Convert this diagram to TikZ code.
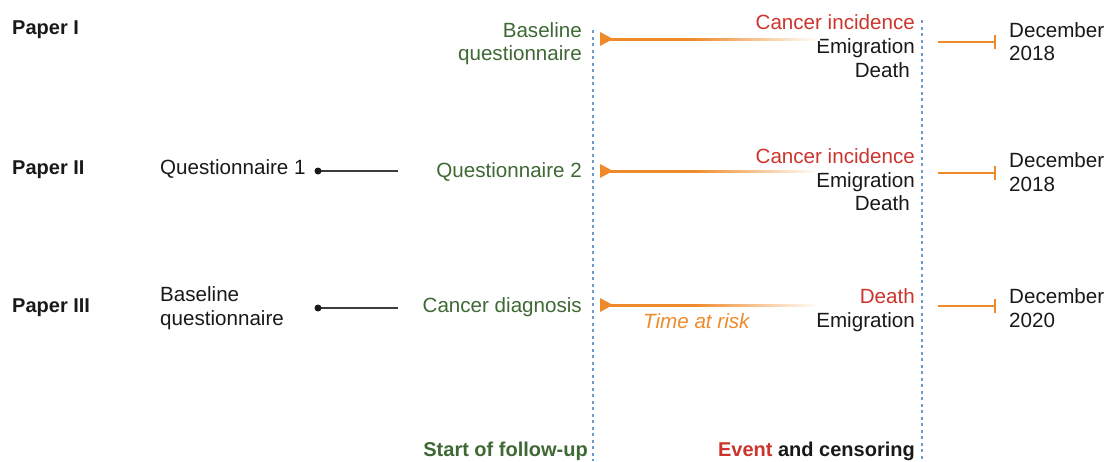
\documentclass[tikz,border=0pt]{standalone}
\usepackage{fontspec}
\setmainfont{Liberation Sans}
\definecolor{tgreen}{RGB}{62,104,52}
\definecolor{tred}{RGB}{204,52,46}
\definecolor{torange}{RGB}{238,138,42}
\definecolor{tblue}{RGB}{110,155,200}
\definecolor{tblack}{RGB}{25,25,25}
\pgfdeclarehorizontalshading{ofade}{100bp}{color(0bp)=(torange); color(25bp)=(torange); color(45bp)=(torange); color(75bp)=(white); color(100bp)=(white)}
\begin{document}
\begin{tikzpicture}[x=1pt,y=-1pt,
  txt/.style={inner sep=0pt,font=\fontsize{20.6}{24}\selectfont,text=tblack},
  gtxt/.style={txt,text=tgreen},
  rtxt/.style={txt,text=tred},
  ptitle/.style={txt,font=\fontsize{20}{24}\selectfont\bfseries,anchor=base west},
  vdot/.style={draw=tblue,line width=2pt,dash pattern=on 3pt off 3.5pt},
  conn/.style={draw=tblack!85,line width=2pt},
  oline/.style={draw=torange,line width=2.3pt},
  tri/.style={fill=torange},
]
\useasboundingbox (0,0) rectangle (1106,461);

% titles
\node[ptitle] (p1) at (12,34) {Paper I};
\node[ptitle] (p2) at (12,174) {Paper II};
\node[ptitle] (p3) at (12,312) {Paper III};

% dotted lines
\coordinate (v1t) at (593,30); \coordinate (v1b) at (593,461);
\coordinate (v2t) at (922,20); \coordinate (v2b) at (922,461);
\draw[vdot] (v1t) -- (v1b);
\draw[vdot] (v2t) -- (v2b);

% row 1
\node[gtxt,anchor=base east] (g1a) at (582,37) {Baseline};
\node[gtxt,anchor=base east] (g1b) at (582,60) {questionnaire};
\node[rtxt,anchor=base east] (e1a) at (915,29) {Cancer incidence};
\node[txt,anchor=base east] (e1b) at (915,53) {Emigration};
\node[txt,anchor=base east] (e1c) at (910,77) {Death};
\node[txt,anchor=base west] (d1a) at (1009,37) {December};
\node[txt,anchor=base west] (d1b) at (1009,60) {2018};

% row 2
\node[txt,anchor=base west] (q1) at (160,174) {Questionnaire 1};
\node[gtxt,anchor=base east] (q2) at (582,177) {Questionnaire 2};
\node[rtxt,anchor=base east] (e2a) at (915,163) {Cancer incidence};
\node[txt,anchor=base east] (e2b) at (915,187) {Emigration};
\node[txt,anchor=base east] (e2c) at (910,210) {Death};
\node[txt,anchor=base west] (d2a) at (1009,167) {December};
\node[txt,anchor=base west] (d2b) at (1009,191) {2018};

% row 3
\node[txt,anchor=base west] (b3a) at (160,301) {Baseline};
\node[txt,anchor=base west] (b3b) at (160,325) {questionnaire};
\node[gtxt,anchor=base east] (cd) at (582,312) {Cancer diagnosis};
\node[rtxt,anchor=base east] (e3a) at (915,303) {Death};
\node[txt,anchor=base east] (e3b) at (915,327) {Emigration};
\node[txt,anchor=base west] (d3a) at (1009,303) {December};
\node[txt,anchor=base west] (d3b) at (1009,327) {2020};
\node[txt,text=torange,font=\fontsize{20.6}{24}\selectfont\itshape,anchor=base west] (tr) at (643,328) {Time at risk};

% bottom labels
\node[txt,text=tgreen,font=\fontsize{20}{24}\selectfont\bfseries,anchor=base east] (sf) at (588,456) {Start of follow-up};
\node[txt,font=\fontsize{20}{24}\selectfont\bfseries,anchor=base east] (ec) at (915,456) {\textcolor{tred}{Event} and censoring};

% left connectors
\foreach \y/\n in {171/a,308/b}{
  \coordinate (ls\n) at (318,\y);
  \coordinate (le\n) at (398,\y);
  \draw[conn] (ls\n) -- (le\n);
  \fill[tblack] (ls\n) circle (3.5pt);
}

% orange time-at-risk arrows
\foreach \y/\n in {39/a,171/b,305/c}{
  \coordinate (as\n) at (600,\y);
  \coordinate (ae\n) at (820,\y);
  \fill[tri] (600,\y-7) -- (613,\y) -- (600,\y+7) -- cycle;
  \shade[shading=ofade] (606,\y-1) rectangle (820,\y+1);
}

% censoring lines
\foreach \y/\n in {42/a,173/b,306/c}{
  \coordinate (cs\n) at (938,\y);
  \coordinate (ce\n) at (995,\y);
  \draw[oline] (cs\n) -- (ce\n);
  \draw[oline] (995,\y-7) -- (995,\y+7);
}
\end{tikzpicture}
\end{document}
